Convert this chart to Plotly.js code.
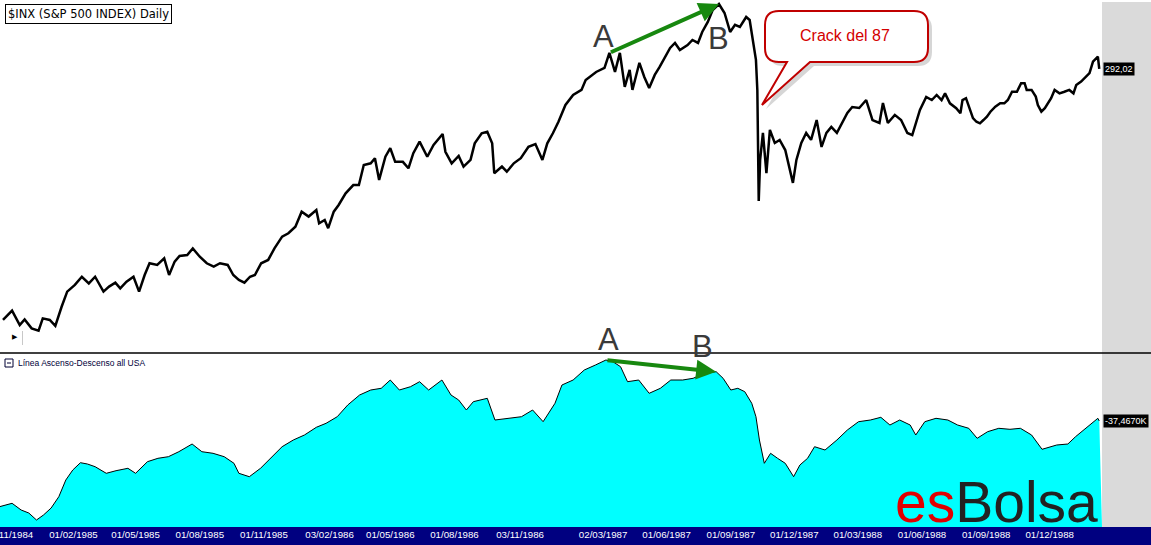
<!DOCTYPE html>
<html>
<head>
<meta charset="utf-8">
<script src="https://cdn.plot.ly/plotly-3.0.1.min.js"></script>
<style>
  html, body { margin: 0; padding: 0; background: #fff; }
  #chart { width: 1151px; height: 545px; }
</style>
</head>
<body>
<div id="chart"></div>
<script>
// S&P 500 daily (roughly one point every week or so)
const spxDates = [
  '1984-10-23','1984-11-05','1984-11-16','1984-11-23','1984-12-03','1984-12-13','1984-12-19','1984-12-29','1985-01-06','1985-01-11',
  '1985-01-15','1985-01-23','1985-02-03','1985-02-13','1985-02-23','1985-03-04','1985-03-16','1985-03-24','1985-04-02','1985-04-09',
  '1985-04-18','1985-04-28','1985-05-06','1985-05-14','1985-05-21','1985-06-01','1985-06-11','1985-06-18','1985-06-26','1985-07-03',
  '1985-07-14','1985-07-22','1985-08-01','1985-08-11','1985-08-21','1985-08-30','1985-09-10','1985-09-18','1985-09-26','1985-10-04',
  '1985-10-12','1985-10-19','1985-10-28','1985-11-07','1985-11-16','1985-11-27','1985-12-06','1985-12-16','1985-12-25','1986-01-04',
  '1986-01-15','1986-01-19','1986-01-27','1986-02-01','1986-02-09','1986-02-16','1986-02-26','1986-03-09','1986-03-17','1986-03-24',
  '1986-04-03','1986-04-09','1986-04-15','1986-04-24','1986-05-01','1986-05-08','1986-05-19','1986-05-27','1986-06-03','1986-06-12',
  '1986-06-23','1986-07-02','1986-07-15','1986-07-19','1986-07-28','1986-08-07','1986-08-14','1986-08-24','1986-08-30','1986-09-09',
  '1986-09-17','1986-09-24','1986-09-27','1986-10-08','1986-10-15','1986-10-25','1986-11-04','1986-11-15','1986-11-25','1986-12-05',
  '1986-12-12','1986-12-20','1986-12-28','1987-01-07','1987-01-18','1987-01-30','1987-02-05','1987-02-20','1987-03-04','1987-03-11',
  '1987-03-19','1987-03-26','1987-04-02','1987-04-09','1987-04-13','1987-04-23','1987-04-30','1987-05-07','1987-05-15','1987-05-22',
  '1987-05-29','1987-06-06','1987-06-13','1987-06-20','1987-07-01','1987-07-08','1987-07-16','1987-07-22','1987-07-30','1987-08-06',
  '1987-08-15','1987-08-23','1987-08-31','1987-09-07','1987-09-14','1987-09-23','1987-09-28','1987-10-02','1987-10-07','1987-10-09',
  '1987-10-11','1987-10-13','1987-10-17','1987-10-22','1987-10-27','1987-11-03','1987-11-10','1987-11-18','1987-11-25','1987-11-29',
  '1987-12-04','1987-12-11','1987-12-18','1987-12-25','1988-01-02','1988-01-09','1988-01-16','1988-01-23','1988-01-31','1988-02-09',
  '1988-02-15','1988-02-22','1988-03-03','1988-03-13','1988-03-22','1988-04-01','1988-04-06','1988-04-13','1988-04-23','1988-05-02',
  '1988-05-11','1988-05-18','1988-05-29','1988-06-07','1988-06-15','1988-06-22','1988-06-29','1988-07-04','1988-07-11','1988-07-20',
  '1988-07-26','1988-07-29','1988-08-03','1988-08-08','1988-08-13','1988-08-18','1988-08-23','1988-08-28','1988-09-02','1988-09-07',
  '1988-09-14','1988-09-21','1988-09-27','1988-10-02','1988-10-08','1988-10-15','1988-10-21','1988-10-26','1988-10-29','1988-11-05',
  '1988-11-11','1988-11-14','1988-11-19','1988-11-24','1988-11-28','1988-12-03','1988-12-08','1988-12-15','1988-12-22','1988-12-29',
  '1989-01-04','1989-01-08','1989-01-15','1989-01-22','1989-01-27','1989-02-01','1989-02-06','1989-02-08','1989-02-10'
];
const spxClose = [
  166.7,170.2,164.8,166.9,163.6,162.8,167.3,166.7,164.5,168.6,
  171.7,177.6,180.3,183.6,180.9,183.6,177.6,179.6,181.2,178.9,
  181.6,183.6,177.6,184.3,189.2,188.5,191.3,184.3,189.9,192.3,
  192.7,195.6,192.0,189.2,187.8,189.2,188.5,184.3,182.3,181.2,
  183.6,184.3,189.2,190.6,195.6,200.8,202.3,205.3,212.3,210.0,
  213.1,206.9,208.4,204.6,212.3,215.5,221.2,225.3,225.3,235.6,
  236.5,239.2,227.9,240.0,244.6,237.3,237.3,233.9,241.9,248.2,
  240.0,246.4,252.5,242.7,236.5,240.4,234.8,238.3,247.3,252.9,
  253.8,247.3,231.3,234.8,232.1,236.5,239.2,245.4,246.9,238.3,
  247.3,252.9,259.5,269.4,275.5,278.6,284.9,290.0,292.6,302.6,
  290.0,302.6,280.5,291.3,278.6,296.0,286.8,279.8,288.1,293.3,
  299.2,306.0,309.4,304.6,307.9,311.5,309.4,317.1,324.3,333.0,
  337.5,330.8,317.1,322.2,320.7,327.9,325.7,313.7,297.9,278.6,
  217.4,238.3,253.1,231.4,254.8,247.5,249.2,243.6,231.4,226.4,
  238.3,247.5,253.1,249.2,260.5,245.3,253.1,256.5,253.1,260.5,
  264.6,268.2,267.6,272.4,260.5,258.8,270.6,258.8,263.5,260.5,
  253.1,251.9,266.4,274.3,272.4,275.5,272.4,276.5,270.4,267.5,
  264.5,272.4,273.5,267.5,261.6,259.5,258.6,260.5,262.5,265.4,
  268.4,270.4,270.4,272.4,277.5,277.5,282.8,282.8,278.6,278.6,
  274.5,269.4,265.4,267.5,270.4,273.5,278.6,276.5,277.5,278.6,
  276.5,281.7,283.8,287.0,289.2,296.8,299.0,300.1,292.02
];

// Advance-decline line, in thousands
const adDates = [
  '1984-10-18','1984-11-05','1984-11-18','1984-11-29','1984-12-10','1984-12-20','1984-12-31','1985-01-11','1985-01-21','1985-01-31',
  '1985-02-11','1985-02-21','1985-03-04','1985-03-20','1985-04-03','1985-04-20','1985-05-01','1985-05-18','1985-06-02','1985-06-17',
  '1985-07-02','1985-07-21','1985-08-04','1985-08-20','1985-09-05','1985-09-19','1985-09-26','1985-10-11','1985-10-27','1985-11-11',
  '1985-11-27','1985-12-13','1985-12-29','1986-01-15','1986-01-29','1986-02-14','1986-03-01','1986-03-18','1986-04-03','1986-04-18',
  '1986-05-01','1986-05-14','1986-05-30','1986-06-12','1986-06-25','1986-07-14','1986-07-27','1986-08-07','1986-08-18','1986-08-28',
  '1986-09-17','1986-09-28','1986-10-14','1986-11-05','1986-11-21','1986-12-06','1986-12-23','1987-01-02','1987-01-18','1987-02-03',
  '1987-02-19','1987-03-06','1987-03-16','1987-03-27','1987-04-06','1987-04-22','1987-05-07','1987-05-23','1987-06-07','1987-06-24',
  '1987-07-09','1987-07-25','1987-08-11','1987-08-21','1987-09-01','1987-09-11','1987-09-21','1987-10-01','1987-10-07','1987-10-12',
  '1987-10-19','1987-10-28','1987-11-07','1987-11-18','1987-11-30','1987-12-09','1987-12-20','1987-12-30','1988-01-14','1988-01-31',
  '1988-02-15','1988-03-02','1988-03-19','1988-04-03','1988-04-16','1988-04-30','1988-05-15','1988-05-23','1988-06-05','1988-06-21',
  '1988-07-08','1988-07-22','1988-08-07','1988-08-19','1988-09-03','1988-09-19','1988-10-05','1988-10-20','1988-11-05','1988-11-20',
  '1988-12-11','1988-12-27','1989-01-07','1989-01-24','1989-02-08','1989-02-10'
];
const adValue = [
  -71.75,-70.39,-73.07,-74.27,-77.07,-75.07,-72.27,-67.75,-61.07,-57.07,
  -54.15,-54.67,-55.75,-58.39,-57.35,-56.39,-58.39,-53.75,-52.39,-51.75,
  -49.75,-46.67,-49.75,-50.39,-51.75,-54.39,-58.39,-59.75,-56.39,-52.39,
  -47.75,-45.07,-43.07,-39.99,-38.39,-35.75,-31.07,-27.07,-25.07,-24.39,
  -21.07,-25.07,-23.75,-21.75,-25.07,-21.07,-27.07,-29.07,-33.07,-29.75,
  -28.39,-37.07,-36.39,-35.75,-33.07,-37.75,-30.39,-23.07,-21.07,-17.07,
  -15.07,-13.07,-13.75,-15.75,-21.75,-21.07,-26.39,-24.39,-21.07,-21.07,
  -20.39,-18.39,-17.75,-20.39,-25.07,-24.39,-25.75,-30.39,-35.75,-45.07,
  -54.39,-50.39,-52.39,-54.39,-59.75,-55.07,-52.39,-47.75,-49.07,-45.07,
  -41.07,-37.75,-37.07,-35.99,-39.07,-37.07,-39.07,-43.07,-37.75,-36.39,
  -37.07,-39.07,-40.39,-44.39,-41.75,-40.39,-40.79,-40.39,-43.07,-48.79,
  -47.07,-46.67,-43.75,-39.75,-36.39,-37.467
];

// axis ticks
const tickDates = ['1984-11-01','1985-02-01','1985-05-01','1985-08-01','1985-11-01','1986-02-03','1986-05-01','1986-08-01',
  '1986-11-03','1987-03-02','1987-06-01','1987-09-01','1987-12-01','1988-03-01','1988-06-01','1988-09-01','1988-12-01'];
const tickText = ['01/11/1984','01/02/1985','01/05/1985','01/08/1985','01/11/1985','03/02/1986','01/05/1986','01/08/1986',
  '03/11/1986','02/03/1987','01/06/1987','01/09/1987','01/12/1987','01/03/1988','01/06/1988','01/09/1988','01/12/1988'];

const xRange = ['1984-10-18 17:00', '1989-02-13 22:00'];
const spxRange = [155.2, 340.55];
const adRange = [-79.87, -11.07];

// where the A -> B divergence arrows sit
const topA = 99, topB = 120;
const adA = 61, adB = 72;

// pixel helpers for decorations (plot area is 1102 x 527)
const W = 1102, H = 527;
const px = x => x / W;
const py = y => 1 - y / H;
const pathPx = s => s.replace(/(-?\d+(?:\.\d+)?),(-?\d+(?:\.\d+)?)/g,
  (m, a, b) => px(+a).toFixed(5) + ',' + py(+b).toFixed(5));

const green = '#17880F';
const letterFont = { family: 'Liberation Sans, Arial, sans-serif', size: 31, color: '#3a3a3a' };
const lastSpx = spxClose[spxClose.length - 1];
const lastAd = adValue[adValue.length - 1];

const traces = [
  {
    x: spxDates, y: spxClose, xaxis: 'x', yaxis: 'y',
    mode: 'lines', line: { color: '#000', width: 2.5 },
    hoverinfo: 'skip', showlegend: false
  },
  {
    x: [xRange[0], xRange[1]], y: [adRange[0], adRange[0]], xaxis: 'x', yaxis: 'y2',
    mode: 'lines', line: { width: 0 }, hoverinfo: 'skip', showlegend: false
  },
  {
    x: adDates, y: adValue, xaxis: 'x', yaxis: 'y2',
    mode: 'lines', line: { color: '#000', width: 1 },
    fill: 'tonexty', fillcolor: '#00FFFF',
    hoverinfo: 'skip', showlegend: false
  }
];

const callout = 'M779,11 L914,11 Q928,11 928,25 L928,48 Q928,62 914,62 L810,62 L762,105 L787,62 L779,62 Q765,62 765,48 L765,25 Q765,11 779,11 Z';
const calloutShadow = 'M783,15 L918,15 Q932,15 932,29 L932,52 Q932,66 918,66 L814,66 L766,109 L791,66 L783,66 Q769,66 769,52 L769,29 Q769,15 783,15 Z';

const layout = {
  width: 1151, height: 545,
  margin: { l: 0, r: 49, t: 0, b: 18 },
  paper_bgcolor: '#fff',
  plot_bgcolor: 'rgba(0,0,0,0)',
  showlegend: false,
  xaxis: {
    type: 'date', range: xRange, anchor: 'y2',
    showgrid: false, zeroline: false, showline: false, ticks: '',
    tickmode: 'array', tickvals: tickDates, ticktext: tickText,
    ticklabeloverflow: 'allow',
    tickfont: { family: 'Liberation Sans, Arial, sans-serif', size: 9.7, color: '#fff' },
    automargin: false
  },
  yaxis: {
    type: 'log', domain: [1 - 352 / H, 1],
    range: [Math.log10(spxRange[0]), Math.log10(spxRange[1])],
    showgrid: false, zeroline: false, showline: false, showticklabels: false, ticks: ''
  },
  yaxis2: {
    domain: [0, 1 - 355 / H], range: adRange,
    showgrid: false, zeroline: false, showline: false, showticklabels: false, ticks: ''
  },
  shapes: [
    { type: 'rect', xref: 'paper', yref: 'paper', x0: 1, x1: 1151 / W, y0: 0, y1: py(2),
      fillcolor: '#DADADA', line: { width: 0 }, layer: 'below' },
    { type: 'rect', xref: 'paper', yref: 'paper', x0: 0, x1: 1151 / W, y0: py(545), y1: 0,
      fillcolor: '#000080', line: { width: 0 }, layer: 'below' },
    { type: 'line', xref: 'paper', yref: 'paper', x0: 0, x1: 1151 / W, y0: py(353), y1: py(353),
      line: { color: '#000', width: 1.5 } },
    { type: 'line', xref: 'paper', yref: 'paper', x0: px(22.5), x1: px(22.5), y0: py(331), y1: py(345),
      line: { color: '#c8c8c8', width: 1 } },
    { type: 'rect', xref: 'paper', yref: 'paper', x0: px(5), x1: px(13), y0: py(367), y1: py(359),
      fillcolor: '#fff', line: { color: '#000033', width: 1 } },
    { type: 'line', xref: 'paper', yref: 'paper', x0: px(7), x1: px(11), y0: py(363), y1: py(363),
      line: { color: '#000033', width: 1 } },
    { type: 'path', xref: 'paper', yref: 'paper', path: pathPx(calloutShadow),
      fillcolor: 'rgba(0,0,0,0.16)', line: { width: 0 } },
    { type: 'path', xref: 'paper', yref: 'paper', path: pathPx(callout),
      fillcolor: '#fff', line: { color: '#C00000', width: 2 } }
  ],
  annotations: [
    { xref: 'paper', yref: 'paper', x: px(5), y: py(4), xanchor: 'left', yanchor: 'top',
      text: '$INX (S&P 500 INDEX) Daily', showarrow: false,
      font: { family: 'DejaVu Sans, sans-serif', size: 11.5, color: '#000' },
      bgcolor: '#fff', bordercolor: '#000', borderwidth: 1, borderpad: 2 },
    { xref: 'paper', yref: 'paper', x: px(16), y: py(362.5), xanchor: 'left', yanchor: 'middle',
      text: 'Línea Ascenso-Descenso all USA', showarrow: false,
      font: { family: 'Liberation Sans, Arial, sans-serif', size: 8.5, color: '#00003a' } },
    { xref: 'paper', yref: 'paper', x: px(15), y: py(337), xanchor: 'center', yanchor: 'middle',
      text: '▶', showarrow: false, font: { family: 'DejaVu Sans', size: 7, color: '#000' } },
    // divergence arrows
    { xref: 'x', yref: 'y', x: spxDates[topB], y: Math.log10(spxClose[topB]),
      axref: 'x', ayref: 'y', ax: spxDates[topA], ay: Math.log10(spxClose[topA]),
      text: '', showarrow: true, arrowhead: 2, arrowsize: 1, arrowwidth: 4, arrowcolor: green, standoff: 0 },
    { xref: 'x', yref: 'y2', x: adDates[adB], y: adValue[adB],
      axref: 'x', ayref: 'y2', ax: adDates[adA], ay: adValue[adA],
      text: '', showarrow: true, arrowhead: 2, arrowsize: 1, arrowwidth: 4, arrowcolor: green, standoff: 0 },
    { xref: 'paper', yref: 'paper', x: px(603), y: py(37), xanchor: 'center', yanchor: 'middle',
      text: 'A', showarrow: false, font: letterFont },
    { xref: 'paper', yref: 'paper', x: px(718), y: py(39), xanchor: 'center', yanchor: 'middle',
      text: 'B', showarrow: false, font: letterFont },
    { xref: 'paper', yref: 'paper', x: px(608), y: py(339), xanchor: 'center', yanchor: 'middle',
      text: 'A', showarrow: false, font: letterFont },
    { xref: 'paper', yref: 'paper', x: px(702), y: py(346), xanchor: 'center', yanchor: 'middle',
      text: 'B', showarrow: false, font: letterFont },
    { xref: 'paper', yref: 'paper', x: px(845), y: py(35), xanchor: 'center', yanchor: 'middle',
      text: 'Crack del 87', showarrow: false,
      font: { family: 'Liberation Sans, Arial, sans-serif', size: 16, color: '#D40000' } },
    { xref: 'paper', yref: 'paper', x: px(1100), y: py(502), xanchor: 'right', yanchor: 'middle',
      text: '<span style="color:#E00000">es</span><span style="color:#222">Bolsa</span>', showarrow: false,
      font: { family: 'Liberation Sans, Arial, sans-serif', size: 57, color: '#222' } },
    // last value tags
    { xref: 'paper', yref: 'y', x: px(1103), y: Math.log10(lastSpx), xanchor: 'left', yanchor: 'middle',
      text: lastSpx.toFixed(2).replace('.', ','), showarrow: false,
      font: { family: 'Liberation Sans, Arial, sans-serif', size: 9, color: '#fff' },
      bgcolor: '#000', borderpad: 1 },
    { xref: 'paper', yref: 'y2', x: px(1103), y: lastAd, xanchor: 'left', yanchor: 'middle',
      text: lastAd.toFixed(4).replace('.', ',') + 'K', showarrow: false,
      font: { family: 'Liberation Sans, Arial, sans-serif', size: 9, color: '#fff' },
      bgcolor: '#000', borderpad: 1 }
  ]
};

Plotly.newPlot('chart', traces, layout, { staticPlot: true, displayModeBar: false });
</script>
</body>
</html>
